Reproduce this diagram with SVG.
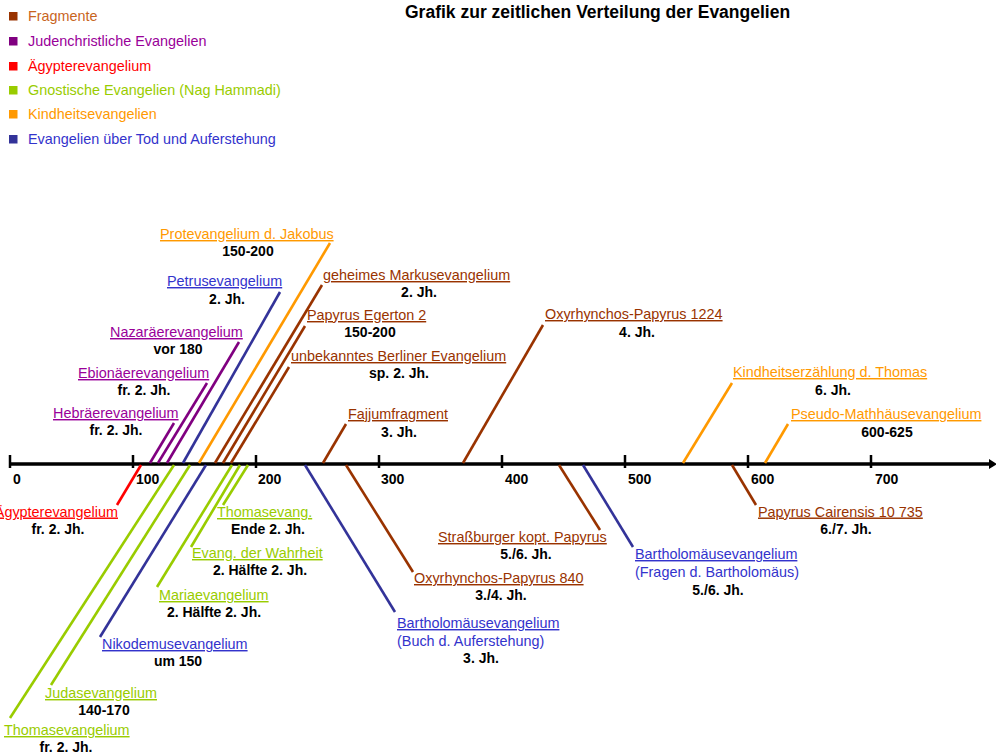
<svg xmlns="http://www.w3.org/2000/svg" width="996" height="754" viewBox="0 0 996 754">
<style>
text{font-family:"Liberation Sans",Arial,sans-serif;font-size:14.4px}
.t{text-decoration:underline}
.d{font-weight:bold;fill:#000;text-anchor:middle;font-size:14px}
.ax{font-weight:bold;fill:#000;font-size:14px}
.title{font-weight:bold;font-size:17.5px;fill:#000}
.conn line{stroke-width:2.6;stroke-linecap:butt;fill:none}
.fr{stroke:#993300}.frt{fill:#993300}
.ju{stroke:#800080}.jut{fill:#990099}
.ag{stroke:#ff0000}.agt{fill:#ff0000}
.gn{stroke:#99cc00}.gnt{fill:#99cc00}
.ki{stroke:#ff9900}.kit{fill:#ff9900}
.to{stroke:#333399}.tot{fill:#3333cc}
</style>
<rect width="996" height="754" fill="#fff"/>
<g id="legend">
<rect x="9" y="12" width="8.5" height="8.5" fill="#993300"/><text x="28" y="21" fill="#c8641e">Fragmente</text>
<rect x="9" y="37" width="8.5" height="8.5" fill="#800080"/><text x="28" y="46" fill="#990099">Judenchristliche Evangelien</text>
<rect x="9" y="62" width="8.5" height="8.5" fill="#ff0000"/><text x="28" y="71" fill="#ff0000">Ägypterevangelium</text>
<rect x="9" y="86" width="8.5" height="8.5" fill="#99cc00"/><text x="28" y="95" fill="#99cc00">Gnostische Evangelien (Nag Hammadi)</text>
<rect x="9" y="110" width="8.5" height="8.5" fill="#ff9900"/><text x="28" y="119" fill="#ff9900">Kindheitsevangelien</text>
<rect x="9" y="135" width="8.5" height="8.5" fill="#333399"/><text x="28" y="144" fill="#3333cc">Evangelien über Tod und Auferstehung</text>
</g>
<text id="title" class="title" x="405" y="18">Grafik zur zeitlichen Verteilung der Evangelien</text>
<g id="axis">
<line x1="10" y1="464" x2="991" y2="464" stroke="#000" stroke-width="3.5"/>
<path d="M989 459 L997 464 L989 469 Z" fill="#000"/>
<g stroke="#000" stroke-width="2.5">
<line x1="10" y1="455" x2="10" y2="468"/>
<line x1="133" y1="455" x2="133" y2="468"/>
<line x1="256" y1="455" x2="256" y2="468"/>
<line x1="379" y1="455" x2="379" y2="468"/>
<line x1="502" y1="455" x2="502" y2="468"/>
<line x1="625" y1="455" x2="625" y2="468"/>
<line x1="748" y1="455" x2="748" y2="468"/>
<line x1="871" y1="455" x2="871" y2="468"/>
</g>
<text class="ax" x="13" y="484">0</text>
<text class="ax" x="136" y="484">100</text>
<text class="ax" x="258" y="484">200</text>
<text class="ax" x="381" y="484">300</text>
<text class="ax" x="505" y="484">400</text>
<text class="ax" x="628" y="484">500</text>
<text class="ax" x="751" y="484">600</text>
<text class="ax" x="875" y="484">700</text>
</g>
<g id="connectors" class="conn">
<line class="ju" x1="150" y1="463" x2="174" y2="423"/>
<line class="ju" x1="158" y1="463" x2="207" y2="383"/>
<line class="ju" x1="167" y1="463" x2="239" y2="342"/>
<line class="to" x1="183" y1="463" x2="280" y2="292"/>
<line class="ki" x1="199" y1="463" x2="330" y2="243"/>
<line class="fr" x1="215" y1="463" x2="322" y2="285"/>
<line class="fr" x1="223" y1="463" x2="305" y2="326"/>
<line class="fr" x1="231" y1="463" x2="289" y2="367"/>
<line class="fr" x1="323" y1="463" x2="346" y2="424"/>
<line class="fr" x1="463" y1="463" x2="543" y2="325"/>
<line class="ki" x1="683" y1="463" x2="732" y2="383"/>
<line class="ki" x1="765" y1="463" x2="788" y2="424"/>
<line class="ag" x1="141" y1="465" x2="117" y2="505"/>
<line class="gn" x1="248" y1="465" x2="223" y2="505"/>
<line class="gn" x1="240" y1="465" x2="191" y2="547"/>
<line class="gn" x1="232" y1="465" x2="157" y2="587"/>
<line class="to" x1="206" y1="465" x2="100" y2="637"/>
<line class="gn" x1="190" y1="465" x2="51" y2="685"/>
<line class="gn" x1="174" y1="465" x2="10" y2="718"/>
<line class="to" x1="305" y1="465" x2="395" y2="612"/>
<line class="fr" x1="346" y1="465" x2="413" y2="572"/>
<line class="fr" x1="559" y1="465" x2="600" y2="530"/>
<line class="to" x1="583" y1="465" x2="633" y2="547"/>
<line class="fr" x1="732" y1="465" x2="756" y2="505"/>
</g>
<g id="protevangelium"><text class="t kit" x="160" y="239">Protevangelium d. Jakobus</text><text class="d" x="248" y="256">150-200</text></g>
<g id="petrus"><text class="t tot" x="167" y="286">Petrusevangelium</text><text class="d" x="227" y="304">2. Jh.</text></g>
<g id="nazaraeer"><text class="t jut" x="110" y="337">Nazaräerevangelium</text><text class="d" x="178" y="354">vor 180</text></g>
<g id="ebionaeer"><text class="t jut" x="78" y="378">Ebionäerevangelium</text><text class="d" x="144" y="395">fr. 2. Jh.</text></g>
<g id="hebraeer"><text class="t jut" x="53" y="418">Hebräerevangelium</text><text class="d" x="116" y="435">fr. 2. Jh.</text></g>
<g id="markus"><text class="t frt" x="323" y="280">geheimes Markusevangelium</text><text class="d" x="419" y="297">2. Jh.</text></g>
<g id="egerton"><text class="t frt" x="307" y="320">Papyrus Egerton 2</text><text class="d" x="370" y="337">150-200</text></g>
<g id="berliner"><text class="t frt" x="291" y="361">unbekanntes Berliner Evangelium</text><text class="d" x="399" y="378">sp. 2. Jh.</text></g>
<g id="fajjum"><text class="t frt" x="348" y="419">Fajjumfragment</text><text class="d" x="399" y="437">3. Jh.</text></g>
<g id="oxy1224"><text class="t frt" x="545" y="319">Oxyrhynchos-Papyrus 1224</text><text class="d" x="637" y="337">4. Jh.</text></g>
<g id="kindheit-thomas"><text class="t kit" x="733" y="377">Kindheitserzählung d. Thomas</text><text class="d" x="833" y="395">6. Jh.</text></g>
<g id="pseudo-mt"><text class="t kit" x="791" y="419">Pseudo-Mathhäusevangelium</text><text class="d" x="887" y="437">600-625</text></g>
<g id="aegypter"><text class="t agt" x="118" y="516.5" text-anchor="end">Ägypterevangelium</text><text class="d" x="58" y="534">fr. 2. Jh.</text></g>
<g id="thomasevang"><text class="t gnt" x="217" y="517">Thomasevang.</text><text class="d" x="268" y="534">Ende 2. Jh.</text></g>
<g id="wahrheit"><text class="t gnt" x="192" y="558">Evang. der Wahrheit</text><text class="d" x="260" y="575">2. Hälfte 2. Jh.</text></g>
<g id="maria"><text class="t gnt" x="159" y="600">Mariaevangelium</text><text class="d" x="214" y="617">2. Hälfte 2. Jh.</text></g>
<g id="nikodemus"><text class="t tot" x="102" y="649">Nikodemusevangelium</text><text class="d" x="178" y="666">um 150</text></g>
<g id="judas"><text class="t gnt" x="45" y="698">Judasevangelium</text><text class="d" x="104" y="715">140-170</text></g>
<g id="thomasevangelium"><text class="t gnt" x="4" y="735">Thomasevangelium</text><text class="d" x="66" y="752">fr. 2. Jh.</text></g>
<g id="strassburger"><text class="t frt" x="438" y="542">Straßburger kopt. Papyrus</text><text class="d" x="526" y="559">5./6. Jh.</text></g>
<g id="oxy840"><text class="t frt" x="414" y="583">Oxyrhynchos-Papyrus 840</text><text class="d" x="501" y="600">3./4. Jh.</text></g>
<g id="bartholomaeus-buch"><text class="t tot" x="397" y="628">Bartholomäusevangelium</text><text class="tot" x="397" y="646">(Buch d. Auferstehung)</text><text class="d" x="481" y="663">3. Jh.</text></g>
<g id="bartholomaeus-fragen"><text class="t tot" x="635" y="559">Bartholomäusevangelium</text><text class="tot" x="635" y="577">(Fragen d. Bartholomäus)</text><text class="d" x="718" y="595">5./6. Jh.</text></g>
<g id="cairensis"><text class="t frt" x="758" y="516.5">Papyrus Cairensis 10 735</text><text class="d" x="846" y="534">6./7. Jh.</text></g>
</svg>
